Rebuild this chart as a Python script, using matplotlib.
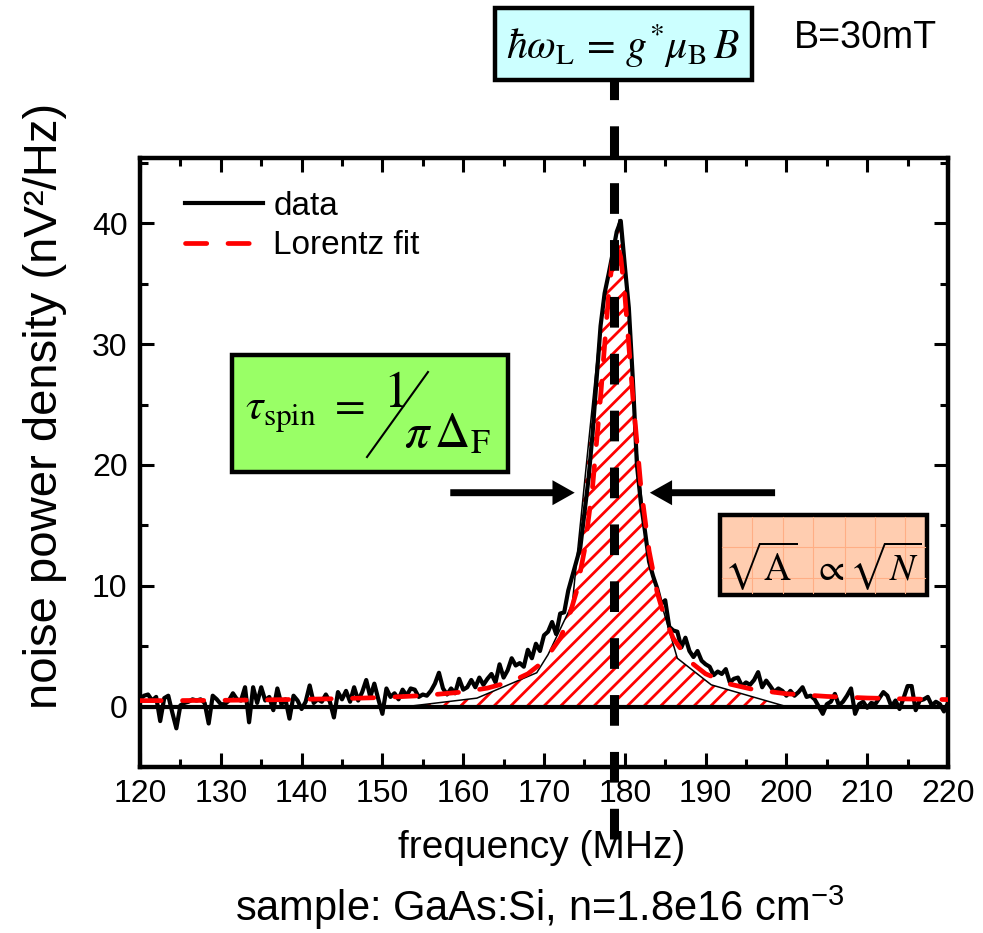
import numpy as np
import matplotlib
matplotlib.use("Agg")
import matplotlib.pyplot as plt
from matplotlib import font_manager
from matplotlib.patches import Rectangle, FancyArrowPatch
from matplotlib.lines import Line2D
from matplotlib.ticker import MultipleLocator

# measured noise spectrum, 0.5 MHz steps from 120 to 220 MHz
freq = np.linspace(120, 220, 201)
noise = [
    0.6, 0.9, 1.0, 0.5, 0.8, -1.2, 0.7, 0.9, -0.5, -1.8,       # 120
    0.1, 0.3, 0.4, 0.6, 0.5, 0.6, 0.3, -1.4, 0.9, 0.6,         # 125
    0.2, 0.2, 0.5, 1.1, 0.6, 0.5, 1.6, -1.3, 1.6, 0.3,         # 130
    1.6, 0.5, 0.8, -0.3, 1.5, 0.2, 0.6, -1.0, 0.9, 0.5,        # 135
    -0.2, 0.4, 1.75, 0.3, 0.6, 0.4, 1.0, 0.4, -0.9, 1.2,       # 140
    0.6, 1.3, 0.4, 1.6, 0.5, 1.2, 2.2, 0.8, 1.9, 0.6,          # 145
    -0.6, 1.5, 0.8, 1.1, 0.6, 1.4, 0.9, 1.5, 1.4, 0.8,         # 150
    1.0, 0.9, 1.3, 1.9, 2.8, 1.5, 1.0, 1.5, 1.1, 2.3,          # 155
    1.4, 1.6, 2.2, 1.6, 2.4, 1.8, 2.3, 2.7, 2.0, 3.5,          # 160
    2.4, 3.0, 4.0, 3.4, 3.6, 3.3, 4.7, 4.0, 5.2, 4.6,          # 165
    5.9, 6.2, 7.0, 6.0, 7.7, 7.8, 9.6, 10.8, 12.0, 13.2,       # 170
    16.0, 18.8, 22.5, 27.0, 31.5, 34.2, 35.8, 37.5, 39.3, 40.2,  # 175
    36.5, 33.0, 27.0, 20.0, 16.8, 14.5, 12.0, 10.8, 9.8, 8.5,  # 180
    8.8, 6.6, 6.3, 6.2, 4.9, 5.7, 4.6, 4.1, 4.6, 3.8,          # 185
    3.5, 3.3, 2.6, 2.9, 2.7, 3.1, 2.0, 2.3, 2.4, 1.7,          # 190
    2.0, 1.8, 2.2, 2.85, 1.6, 2.15, 1.7, 1.2, 1.5, 1.3,        # 195
    0.9, 1.3, 0.9, 1.2, 1.6, 0.8, 0.9, 0.6, 0.0, -0.6,         # 200
    0.2, 0.4, 1.05, 0.1, 0.4, 0.9, 1.5, -0.6, 0.2, 0.4,        # 205
    -0.1, 0.3, 0.2, 0.7, 1.2, 0.9, 0.0, 0.5, -0.2, 0.7,        # 210
    1.7, 1.7, -0.3, 0.5, 0.6, 0.8, 0.1, 0.4, 0.2, -0.4,        # 215
    0.3,                                                       # 220
]

# Lorentz fit
fit_x = [120, 125, 130, 135, 140, 145, 150, 155, 160, 163, 166, 168, 170,
         172, 173, 174, 175, 176, 177, 177.5, 178, 178.5, 179, 179.5, 180,
         180.5, 181, 182, 183, 184, 185, 186, 188, 190, 193, 196, 200, 205,
         210, 215, 220]
fit_y = [0.49, 0.50, 0.52, 0.55, 0.60, 0.66, 0.75, 0.91, 1.21, 1.53, 2.08,
         2.71, 3.76, 5.64, 7.2, 9.47, 12.9, 18.1, 25.6, 29.9, 34.1, 37.2,
         38.4, 37.2, 34.1, 29.9, 25.6, 18.1, 12.9, 9.47, 7.2, 5.64, 3.76,
         2.71, 1.86, 1.40, 1.06, 0.84, 0.71, 0.63, 0.58]

# outline of the hatched area A
area_x = [153.0, 161.7, 169.1, 170.5, 173.5, 177.3, 178.2, 179.3, 180.4,
          181.3, 182.3, 183.1, 184.4, 186.5, 190.7, 194.3, 200.0]
area_y = [0.0, 0.7, 2.8, 4.3, 8.5, 33.6, 36.2, 40.3, 33.6, 22.6, 15.7,
          11.5, 8.8, 4.0, 1.8, 1.1, 0.0]

larmor = 178.7

names = {f.name for f in font_manager.fontManager.ttflist}
narrow = "Liberation Sans Narrow" if "Liberation Sans Narrow" in names else "Liberation Sans"
plt.rcParams["font.family"] = narrow
plt.rcParams["mathtext.fontset"] = "stix"
plt.rcParams["hatch.linewidth"] = 2.0

W, H = 983, 933


def fx(px):
    return px / W


def fy(py):
    return 1 - py / H


fig = plt.figure(figsize=(9.83, 9.33), dpi=100)
ax = fig.add_axes([fx(140), fy(767), fx(948) - fx(140), fy(158) - fy(767)])

ax.fill_between(area_x, area_y, 0, facecolor="white", edgecolor="red",
                hatch="//", linewidth=0, zorder=1)
ax.plot(area_x, area_y, color="k", lw=1.1, zorder=2)
ax.axhline(0, color="k", lw=3, zorder=2)
ax.plot(freq, noise, color="k", lw=3.0, zorder=3, label="data")
ax.plot(fit_x, fit_y, color="red", lw=3.4, ls=(0, (4.5, 4.5)), dash_capstyle="round",
        zorder=4, label="Lorentz fit")

ax.plot([larmor, larmor], [-0.118, 1.135], transform=ax.get_xaxis_transform(),
        color="k", lw=6.5, ls=(0, (3.4, 2.9)), clip_on=False, zorder=6)

for x0, x1 in [(158.4, 173.8), (198.6, 183.1)]:
    ax.add_patch(FancyArrowPatch((x0, 17.7), (x1, 17.7), mutation_scale=1,
                                 arrowstyle="simple,head_length=16,head_width=18,tail_width=5",
                                 color="k", lw=0, shrinkA=0, shrinkB=0, zorder=5))

ax.set_xlim(120, 220)
ax.set_ylim(-5, 45.4)
ax.xaxis.set_major_locator(MultipleLocator(10))
ax.xaxis.set_minor_locator(MultipleLocator(5))
ax.yaxis.set_major_locator(MultipleLocator(10))
ax.yaxis.set_minor_locator(MultipleLocator(5))
ax.tick_params(which="both", direction="in", top=True, right=True, width=2.2,
               labelsize=23)
ax.tick_params(which="major", length=10, pad=9)
ax.tick_params(which="minor", length=5.5)
for s in ax.spines.values():
    s.set_linewidth(3.2)

ax.legend(loc="upper left", bbox_to_anchor=(0.0557, 0.946), frameon=False,
          borderpad=0, borderaxespad=0, handlelength=2.35, handletextpad=0.3,
          labelspacing=0.25, prop={"family": "Liberation Sans", "size": 24})

fig.text(fx(542), fy(848), "frequency (MHz)", ha="center", va="center", fontsize=28)
fig.text(fx(45), fy(406), "noise power density (nV²/Hz)", ha="center", va="center",
         rotation=90, fontsize=34)
fig.text(fx(540), fy(908), r"sample: GaAs:Si, n=1.8e16 cm$^{\mathregular{-3}}$",
         ha="center", va="center", fontsize=30)
fig.text(fx(865), fy(38), "B=30mT", ha="center", va="center", fontsize=27,
         family="Liberation Sans")


# formula boxes
def box(x0, y0, x1, y1, color):
    fig.patches.append(Rectangle((fx(x0), fy(y1)), fx(x1) - fx(x0), fy(y0) - fy(y1),
                                 transform=fig.transFigure, facecolor=color,
                                 edgecolor="k", lw=3.2, zorder=10))


box(495, 8, 752, 80, "#CCFFFF")
fig.text(fx(623), fy(46), r"$\hbar\omega_{\mathrm{L}}\,=\,g^{*}\mu_{\mathrm{B}}\,B$",
         ha="center", va="center", fontsize=30, zorder=11)

box(232, 355, 508, 472, "#99FF66")
fig.text(fx(245), fy(420), r"$\tau_{\mathrm{spin}}\ =$", ha="left", va="baseline",
         fontsize=32, zorder=11)
fig.text(fx(383), fy(407), r"$1$", ha="left", va="baseline", fontsize=37, zorder=11)
fig.lines.append(Line2D([fx(367), fx(428)], [fy(457), fy(372)], transform=fig.transFigure,
                        color="k", lw=1.5, zorder=11))
fig.text(fx(404), fy(447), r"$\pi\,\Delta_{\mathrm{F}}$", ha="left", va="baseline",
         fontsize=35, zorder=11)

box(720, 515, 927, 595, "#FFCDB0")
for gx in [752, 783, 813, 845, 875, 905]:
    fig.lines.append(Line2D([fx(gx), fx(gx)], [fy(593), fy(517)], transform=fig.transFigure,
                            color="#FFAE85", lw=0.8, zorder=10.5))
for gy in [547, 578]:
    fig.lines.append(Line2D([fx(722), fx(925)], [fy(gy), fy(gy)], transform=fig.transFigure,
                            color="#FFAE85", lw=0.8, zorder=10.5))
fig.text(fx(823), fy(580), r"$\sqrt{\mathrm{A}}\ \ \propto\sqrt{N}$", ha="center",
         va="baseline", fontsize=27, zorder=11)

fig.savefig("out.png", dpi=100)
